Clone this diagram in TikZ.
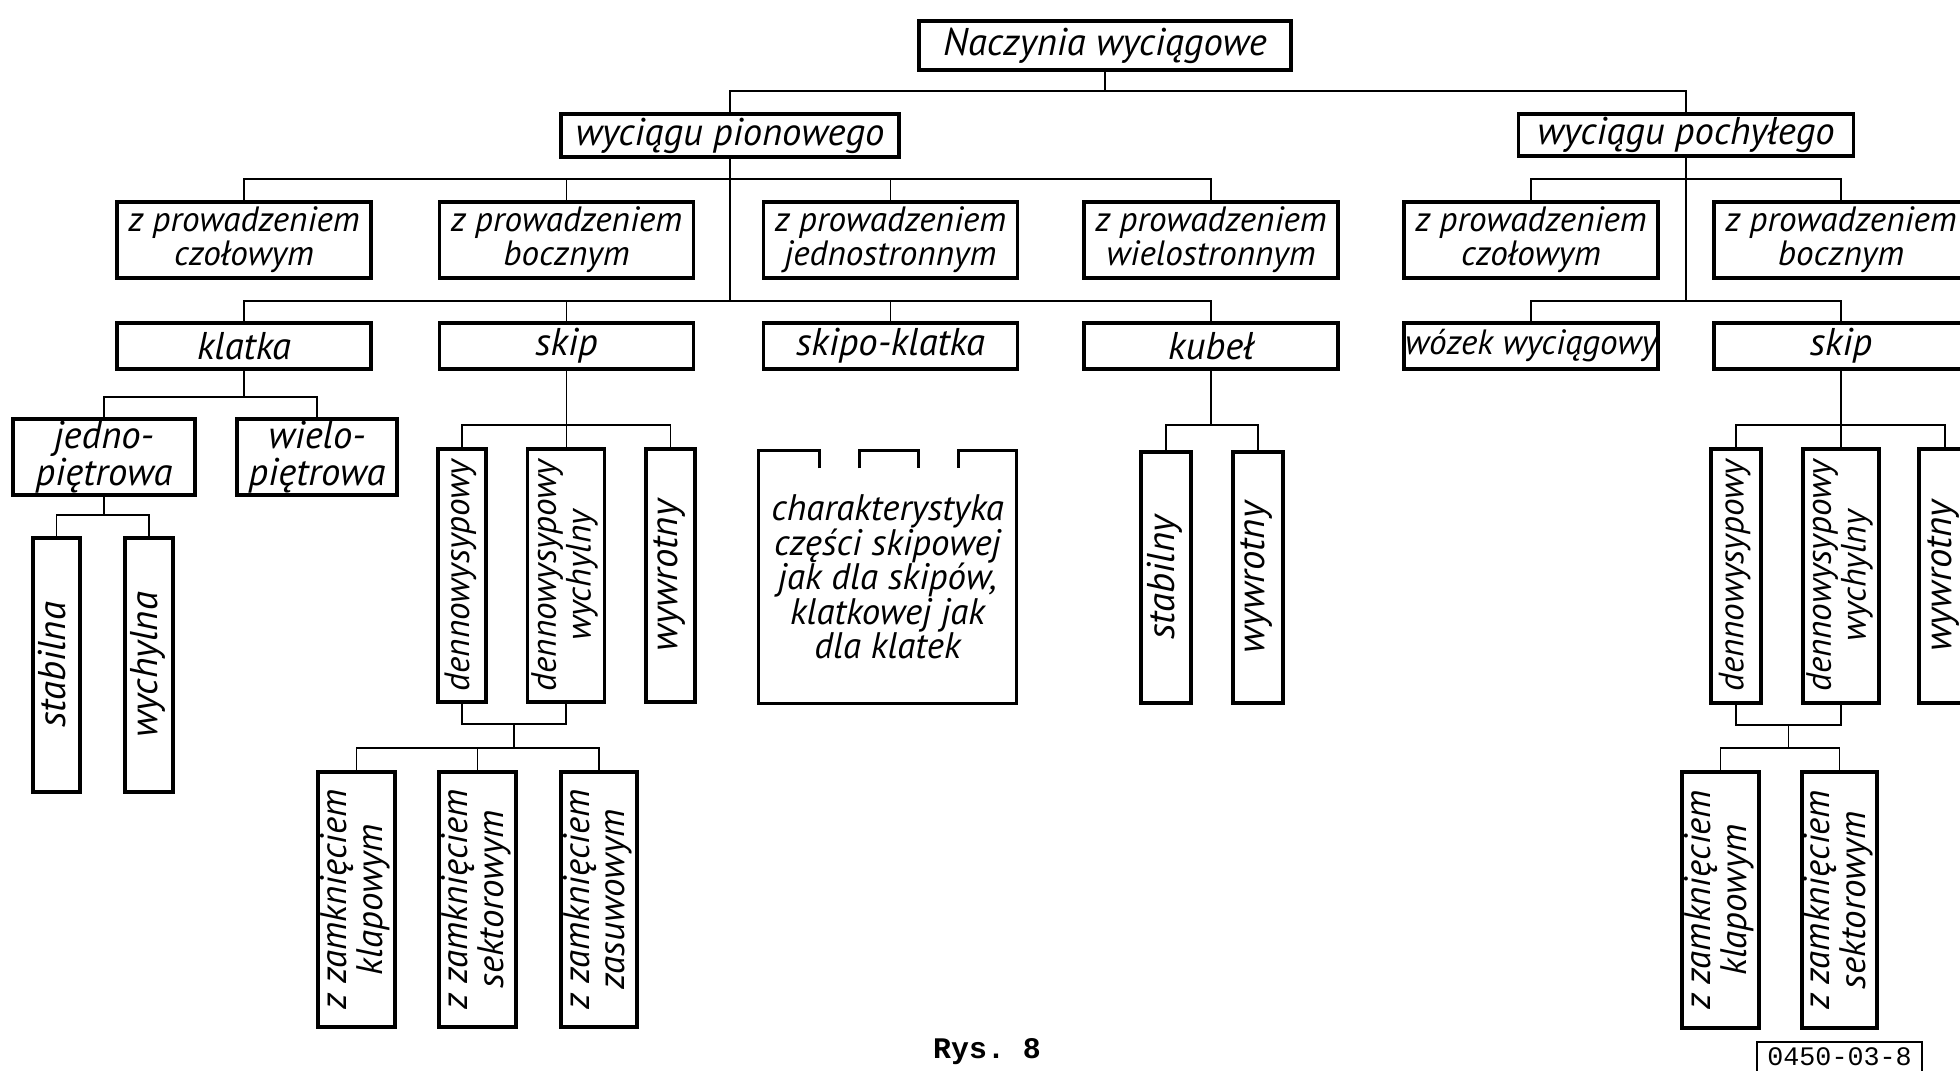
\documentclass[tikz,border=0pt]{standalone}
\usepackage{fontspec}
\setmainfont{PT Sans}
\setmonofont{Liberation Mono}

\newcommand{\labelfont}{\itshape\fontsize{10}{9.6}\selectfont}
\newcommand{\vlabel}[1]{\rotatebox{90}{\begin{tabular}{@{}c@{}}#1\end{tabular}}}

\begin{document}
\begin{tikzpicture}
	[%
	box/.style ={rectangle,	draw=black,	line width=1pt,	inner sep=0pt,	align=center,	font=\labelfont},%
	f11/.style ={font=\itshape\fontsize{11}{9.8}\selectfont},%
	f10/.style ={font=\itshape\fontsize{10.5}{9.8}\selectfont},%
	wide/.style={box,	minimum width=2.54cm,	minimum height=0.76cm},%
	flat/.style={box,	f11,	minimum width=2.54cm,	minimum height=0.46cm},%
	tall/.style={box,	minimum height=2.54cm},%
	link/.style={line width=0.5pt},%
	]

	\useasboundingbox (0,0) rectangle (19.6,-10.7);

	% levels of the bars
	\coordinate (b0) at (0,-0.91);
	\coordinate (b1) at (0,-1.79);
	\coordinate (b2) at (0,-3.01);
	\coordinate (b3) at (0,-3.97);
	\coordinate (b4) at (0,-5.15);
	\coordinate (b5) at (0,-4.25);
	\coordinate (j1) at (5.14,-7.24);
	\coordinate (j2) at (0,-7.48);
	\coordinate (j3) at (17.885,-7.25);

	% top
	\node (root) at (11.05,-0.455) [box, f11, minimum width=3.72cm, minimum height=0.49cm] {Naczynia wyciągowe};
	\node (pion) at (7.30,-1.355)  [box, f11, minimum width=3.38cm, minimum height=0.43cm] {wyciągu pionowego};
	\node (poch) at (16.86,-1.35)  [box, f11, minimum width=3.35cm, minimum height=0.42cm] {wyciągu pochyłego};

	% guidance
	\node (pcz) at (2.44,-2.40)  [wide] {z prowadzeniem\\czołowym};
	\node (pbo) at (5.665,-2.40) [wide] {z prowadzeniem\\bocznym};
	\node (pje) at (8.905,-2.40) [wide] {z prowadzeniem\\jednostronnym};
	\node (pwi) at (12.11,-2.40) [wide] {z prowadzeniem\\wielostronnym};
	\node (kcz) at (15.31,-2.40) [wide] {z prowadzeniem\\czołowym};
	\node (kbo) at (18.41,-2.40) [wide] {z prowadzeniem\\bocznym};

	% vessels
	\node (klatka) at (2.44,-3.46)  [flat] {klatka};
	\node (skip)   at (5.665,-3.46) [flat] {skip};
	\node (skipkl) at (8.905,-3.46) [flat] {skipo-klatka};
	\node (kubel)  at (12.11,-3.46) [flat] {kubeł};
	\node (wozek)  at (15.31,-3.46) [flat, font=\labelfont] {wózek wyciągowy};
	\node (skipb)  at (18.41,-3.46) [flat] {skip};

	% cages
	\node (jedno) at (1.04,-4.57) [box, font=\itshape\fontsize{11}{10.4}\selectfont, minimum width=1.82cm, minimum height=0.76cm] {jedno-\\piętrowa};
	\node (wielo) at (3.17,-4.57) [box, font=\itshape\fontsize{11}{10.4}\selectfont, minimum width=1.60cm, minimum height=0.76cm] {wielo-\\piętrowa};
	\node (stabilna) at (0.565,-6.65) [tall, f11, minimum width=0.47cm] {\vlabel{stabilna}};
	\node (wychylna) at (1.49,-6.65)  [tall, f11, minimum width=0.48cm] {\vlabel{wychylna}};

	% skips of the vertical hoist
	\node (sd)  at (4.62,-5.755)  [tall, minimum width=0.48cm, minimum height=2.53cm] {\vlabel{dennowysypowy}};
	\node (sdw) at (5.66,-5.755)  [tall, minimum width=0.77cm, minimum height=2.53cm] {\vlabel{dennowysypowy\\wychylny}};
	\node (sw)  at (6.705,-5.755) [tall, f11, minimum width=0.49cm, minimum height=2.53cm] {\vlabel{wywrotny}};
	\node (zk) at (3.565,-8.995) [tall, f10, minimum width=0.77cm, minimum height=2.55cm] {\vlabel{z zamknięciem\\klapowym}};
	\node (zs) at (4.775,-8.995) [tall, f10, minimum width=0.77cm, minimum height=2.55cm] {\vlabel{z zamknięciem\\sektorowym}};
	\node (zz) at (5.99,-8.995)  [tall, f10, minimum width=0.76cm, minimum height=2.55cm] {\vlabel{z zamknięciem\\zasuwowym}};

	% skip-cage
	\node (opis) at (8.875,-5.77) [minimum width=2.57cm, minimum height=2.52cm, inner sep=0pt, align=center, f10]
		{charakterystyka\\części skipowej\\jak dla skipów,\\klatkowej jak\\dla klatek};
	\draw [line width=1pt] ([xshift=0.61cm, yshift=-0.18cm]opis.north west) -- ++(0,0.18) -- (opis.north west)
		-- (opis.south west) -- (opis.south east) -- (opis.north east) -- ++(-0.58,0) -- ++(0,-0.18);
	\draw [line width=1pt] ([xshift=1.01cm, yshift=-0.18cm]opis.north west) -- ++(0,0.18) -- ++(0.59,0) -- ++(0,-0.18);

	% buckets
	\node (stabilny) at (11.66,-5.775) [tall, f11, minimum width=0.50cm, minimum height=2.51cm] {\vlabel{stabilny}};
	\node (wywrotny) at (12.58,-5.775) [tall, f11, minimum width=0.50cm, minimum height=2.51cm] {\vlabel{wywrotny}};

	% skips of the inclined hoist
	\node (sdb)  at (17.36,-5.76) [tall, minimum width=0.50cm] {\vlabel{dennowysypowy}};
	\node (sdwb) at (18.41,-5.76) [tall, minimum width=0.76cm] {\vlabel{dennowysypowy\\wychylny}};
	\node (swb)  at (19.45,-5.76) [tall, f11, minimum width=0.52cm] {\vlabel{wywrotny}};
	\node (zkb) at (17.205,-9.00) [tall, f10, minimum width=0.77cm, minimum height=2.56cm] {\vlabel{z zamknięciem\\klapowym}};
	\node (zsb) at (18.395,-9.00) [tall, f10, minimum width=0.75cm, minimum height=2.56cm] {\vlabel{z zamknięciem\\sektorowym}};

	% caption
	\node (rys) at (9.87,-10.52) [font=\ttfamily\bfseries\fontsize{8.5}{8.5}\selectfont] {Rys. 8};
	\node (nr) at (18.395,-10.57) [draw, line width=0.8pt, minimum width=1.65cm, minimum height=0.30cm, inner sep=0pt,
		font=\ttfamily\fontsize{7.6}{7.6}\selectfont] {0450-03-8};

	% interconnections
	\draw [link] (root.south) -- (root.south |- b0);
	\draw [link] (pion.north) |- (poch.north |- b0) -- (poch.north);

	\draw [link] (pion.south) -- (pion.south |- b2);
	\draw [link] (pcz.north) |- (pwi.north |- b1) -- (pwi.north);
	\foreach \n in {pbo, pje} \draw [link] (\n.north) -- (\n.north |- b1);
	\draw [link] (klatka.north) |- (kubel.north |- b2) -- (kubel.north);
	\foreach \n in {skip, skipkl} \draw [link] (\n.north) -- (\n.north |- b2);

	\draw [link] (poch.south) -- (poch.south |- b2);
	\draw [link] (kcz.north) |- (kbo.north |- b1) -- (kbo.north);
	\draw [link] (wozek.north) |- (skipb.north |- b2) -- (skipb.north);

	\draw [link] (klatka.south) -- (klatka.south |- b3);
	\draw [link] (jedno.north) |- (wielo.north |- b3) -- (wielo.north);
	\draw [link] (jedno.south) -- (jedno.south |- b4);
	\draw [link] (stabilna.north) |- (wychylna.north |- b4) -- (wychylna.north);

	\draw [link] (skip.south) -- (skip.south |- sdw.north);
	\draw [link] (sd.north) |- (sw.north |- b5) -- (sw.north);
	\draw [link] (sd.south) |- (j1) -| (sdw.south);
	\draw [link] (j1) -- (j1 |- j2);
	\draw [link] (zk.north) |- (zz.north |- j2) -- (zz.north);
	\draw [link] (zs.north) -- (zs.north |- j2);

	\draw [link] (kubel.south) -- (kubel.south |- b5);
	\draw [link] (stabilny.north) |- (wywrotny.north |- b5) -- (wywrotny.north);

	\draw [link] (skipb.south) -- (skipb.south |- sdwb.north);
	\draw [link] (sdb.north) |- (swb.north |- b5) -- (swb.north);
	\draw [link] (sdb.south) |- (j3) -| (sdwb.south);
	\draw [link] (j3) -- (j3 |- j2);
	\draw [link] (zkb.north) |- (zsb.north |- j2) -- (zsb.north);

\end{tikzpicture}
\end{document}
